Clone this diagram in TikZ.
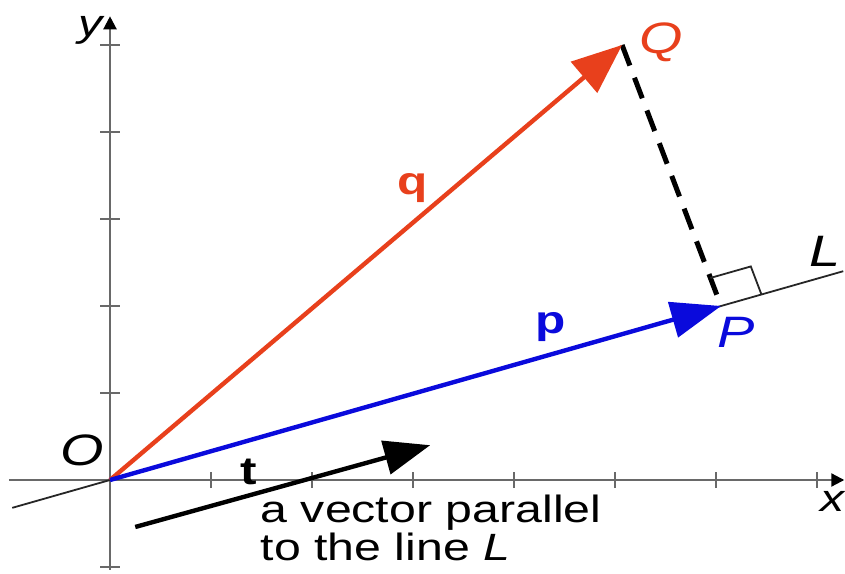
\documentclass[tikz,border=0pt]{standalone}
\usepackage{fontspec}
\setmainfont[FakeStretch=1.27]{Liberation Sans}
\usetikzlibrary{arrows.meta,calc}
\definecolor{vred}{RGB}{232,64,28}
\definecolor{vblue}{RGB}{10,10,220}
\definecolor{axgray}{RGB}{105,105,105}
\begin{document}
\begin{tikzpicture}[x=101pt,y=87pt,
  axisline/.style={draw=axgray,line width=2.2pt},
  tickmark/.style={draw=axgray,line width=1.6pt},
  axtip/.style={-{Triangle[length=13pt,width=13pt,color=black]}},
  italbl/.style={inner sep=0pt,font=\fontsize{44}{44}\selectfont\itshape},
  smlbl/.style={inner sep=0pt,font=\fontsize{38}{38}\selectfont\itshape},
  boldlbl/.style={inner sep=0pt,font=\fontsize{39}{39}\selectfont\bfseries},
  txt/.style={inner sep=0pt,anchor=base west,font=\fontsize{38}{38}\selectfont},
  vecq/.style={draw=vred,line width=4.4pt,-{Triangle[length=50pt,width=40pt,color=vred]}},
  vecp/.style={draw=vblue,line width=4.4pt,-{Triangle[length=50pt,width=36pt,color=vblue]}},
  vect/.style={draw=black,line width=4.4pt,-{Triangle[length=46pt,width=34pt,color=black]}},
  thinline/.style={draw=black!85,line width=1.8pt},
  perpdash/.style={draw=black,line width=5pt,dash pattern=on 22pt off 13pt}
]
\useasboundingbox (-110pt,-93pt) rectangle (735pt,480pt);

% points
\coordinate (O) at (0,0);
\coordinate (P) at (6.05,2.0);
\coordinate (Q) at (5.07,5.0);
\coordinate (Ls) at ($(O)!-0.16!(P)$);
\coordinate (Le) at ($(O)!1.2!(P)$);
\coordinate (xs) at (-1,0);
\coordinate (xe) at (7.27,0);
\coordinate (ys) at (0,-1.03);
\coordinate (ye) at (0,5.33);
\coordinate (ts) at (0.25,-0.54);
\coordinate (te) at (3.17,0.40);

% axes
\draw[axisline,axtip] (xs) -- (xe);
\draw[axisline,axtip] (ys) -- (ye);
\foreach \i in {1,...,7}
  \draw[tickmark] ([yshift=-8pt]\i,0) -- ([yshift=8pt]\i,0);
\foreach \j in {-1,1,2,3,4,5}
  \draw[tickmark] ([xshift=-10pt]0,\j) -- ([xshift=10pt]0,\j);

% line L
\draw[thinline] (Ls) -- (Le);

% perpendicular
\draw[perpdash] (Q) -- (P);
\coordinate (ra) at ($(P)!30pt!(Q)$);
\coordinate (rb) at ($(P)!42pt!(Le)$);
\coordinate (rc) at ($(ra)+(rb)-(P)$);
\draw[thinline] (ra) -- (rc) -- (rb);

% vectors
\draw[vecq] (O) -- (Q);
\draw[vecp] (O) -- (P);
\draw[vect] (ts) -- (te);

% labels
\node[smlbl] (ylab) at (-0.19,5.17) {y};
\node[smlbl] (xlab) at (7.15,-0.25) {x};
\node[italbl] (Olab) at (-0.27,0.345) {O};
\node[italbl,text=vred] (Qlab) at (5.455,5.03) {Q};
\node[italbl,text=vblue] (Plab) at (6.2,1.70) {P};
\node[italbl] (Llab) at (7.08,2.63) {L};
\node[boldlbl,text=vred] (qlab) at (3.0,3.36) {q};
\node[boldlbl,text=vblue] (plab) at (4.36,1.76) {p};
\node[boldlbl] (tlab) at (1.37,0.09) {t};
\node[txt] (line1) at (1.49,-0.491) {a vector parallel};
\node[txt] (line2) at (1.49,-0.92) {to the line \textit{L}};
\end{tikzpicture}
\end{document}
